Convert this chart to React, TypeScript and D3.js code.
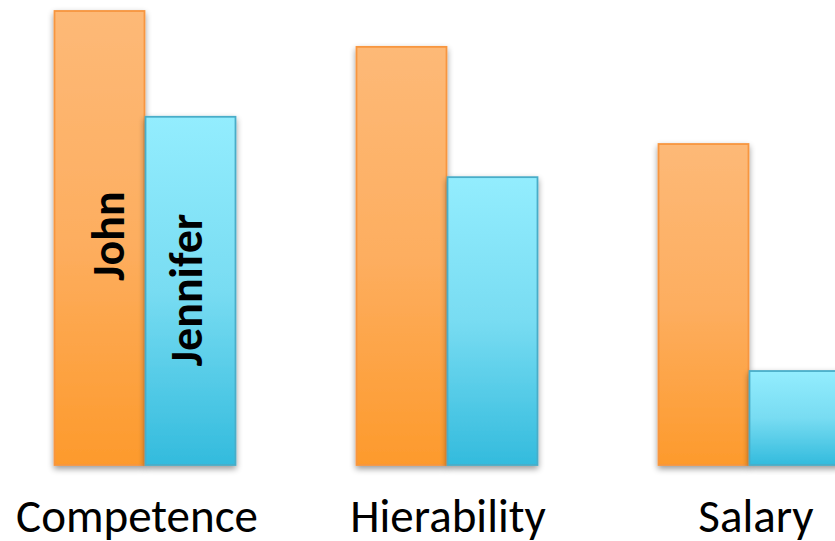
import React from "react";
import * as d3 from "d3";

const categories = ["Competence", "Hierability", "Salary"];
const series = ["John", "Jennifer"];
const johnValues = [100, 92.1, 70.7];
const jenniferValues = [76.7, 63.4, 20.7];

const W = 835;
const H = 541;

export default function App() {
  const x = d3.scaleBand<string>().domain(categories).range([54, 840]).paddingInner(120 / 302).paddingOuter(0);
  const xs = d3.scaleBand<string>().domain(series).range([0, x.bandwidth()]);
  const y = d3.scaleLinear().domain([0, 100]).range([465, 11]);
  const values: Record<string, number[]> = { John: johnValues, Jennifer: jenniferValues };
  const fills: Record<string, string> = { John: "url(#gJohn)", Jennifer: "url(#gJen)" };
  const strokes: Record<string, string> = { John: "#F7963F", Jennifer: "#4AADC8" };
  const font = "Calibri, Carlito, 'Open Sans', 'Noto Sans', sans-serif";
  const labelShift = [-8, 1, 7];
  const nameShift = [24, 11];

  return (
    <svg width={W} height={H} style={{ position: "absolute", left: 0, top: 0, background: "#fff" }}>
      <defs>
        <linearGradient id="gJohn" x1="0" y1="0" x2="0" y2="1">
          <stop offset="0" stopColor="#FDB977" />
          <stop offset="0.5" stopColor="#FDAE60" />
          <stop offset="1" stopColor="#FD9A2C" />
        </linearGradient>
        <linearGradient id="gJen" x1="0" y1="0" x2="0" y2="1">
          <stop offset="0" stopColor="#93EDFE" />
          <stop offset="0.5" stopColor="#78DCF2" />
          <stop offset="1" stopColor="#33BBDD" />
        </linearGradient>
        <filter id="shadow" x="-20%" y="-10%" width="140%" height="120%">
          <feGaussianBlur in="SourceAlpha" stdDeviation="3" />
          <feOffset dx="0" dy="3" result="b" />
          <feComponentTransfer><feFuncA type="linear" slope="0.4" /></feComponentTransfer>
          <feMerge><feMergeNode /><feMergeNode in="SourceGraphic" /></feMerge>
        </filter>
      </defs>
      {categories.map((c, i) => (
        <g key={c} transform={`translate(${x(c)},0)`}>
          {series.map((s) => (
            <rect
              key={s}
              x={xs(s)! + 0.5}
              y={y(values[s][i])}
              width={xs.bandwidth() - 1}
              height={y(0) - y(values[s][i])}
              fill={fills[s]}
              stroke={strokes[s]}
              strokeWidth={1.8}
              filter="url(#shadow)"
            />
          ))}
          <text
            x={x.bandwidth() / 2 + labelShift[i]}
            y={532}
            textAnchor="middle"
            fontFamily={font}
            fontSize={47}
            fill="#000"
          >
            {c}
          </text>
        </g>
      ))}
      {series.map((s, k) => {
        const cx = x(categories[0])! + xs(s)! + xs.bandwidth() / 2;
        const cy = k === 0 ? 236 : 290;
        return (
          <text
            key={s}
            transform={`translate(${cx + nameShift[k]},${cy}) rotate(-90)`}
            textAnchor="middle"
            fontFamily={font}
            fontSize={46}
            fontWeight="bold"
            fill="#000"
          >
            {s}
          </text>
        );
      })}
    </svg>
  );
}
